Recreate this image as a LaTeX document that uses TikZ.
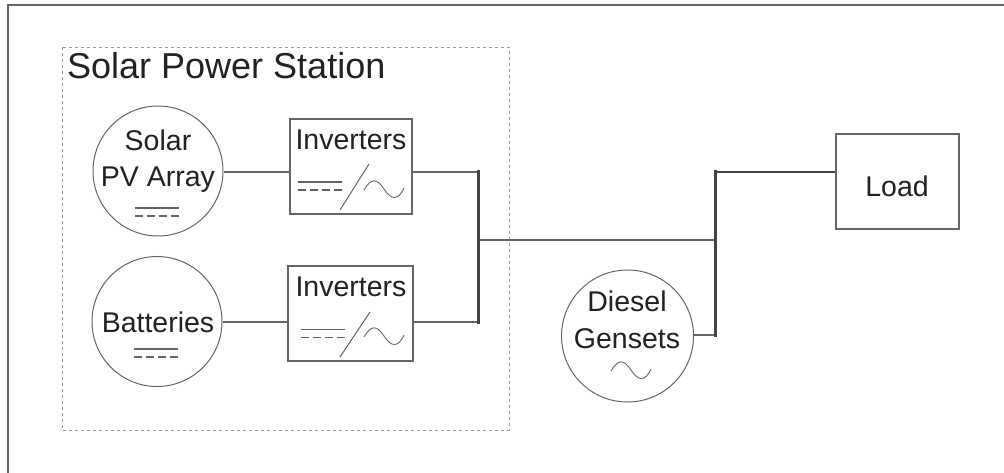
\documentclass[tikz,border=0pt]{standalone}
\usepackage{fontspec}
\setmainfont{Liberation Sans}
\usetikzlibrary{calc}
\definecolor{cInk}{HTML}{222222}
\definecolor{cLine}{HTML}{666666}
\definecolor{cBus}{HTML}{444444}
\definecolor{cDash}{HTML}{9A9A9A}
\tikzset{
  lbl/.style={font=\fontsize{28.5}{36.5}\selectfont, text=cInk, align=center, inner sep=0pt},
  src/.style={circle, draw=cLine, line width=1pt, fill=white, inner sep=0pt, minimum size=130pt},
  invbox/.style={rectangle, draw=cLine, line width=1.2pt, fill=white, inner sep=0pt, minimum width=122pt, minimum height=95pt},
  wire/.style={draw=cLine, line width=1.3pt},
  bus/.style={draw=cBus, line width=3pt, line cap=rect},
  dcmark/.pic={
    \draw[draw=cLine, line width=1.1pt] (-22,-4)--(22,-4);
    \draw[draw=cLine, line width=1.1pt, dash pattern=on 8pt off 4pt] (-22,4)--(22,4);
  },
  acwave/.pic={
    \draw[draw=cLine, line width=0.9pt] (-20,1) .. controls (-13,-11) and (-7,-11) .. (0,0)
      .. controls (7,11) and (14,12) .. (20,-1);
  },
}
\begin{document}
\begin{tikzpicture}[x=1pt, y=-1pt]
\useasboundingbox (0,0) rectangle (1004,473);
\fill[white] (0,0) rectangle (1004,473);
\draw[draw=cLine, line width=1.8pt] (8,473)--(8,5)--(1004,5);
% station
\draw[draw=cDash, line width=0.8pt, dashed] (62,47) rectangle (509,430);
\node[font=\fontsize{36}{40}\selectfont, text=cInk, anchor=west, inner sep=0pt] (title) at (67,66) {Solar Power Station};
% sources
\node[src] (pv) at (158,171) {};
\node[src] (bat) at (157,321.5) {};
\node[src, minimum size=132pt] (dsl) at (627.5,336) {};
\node[lbl] (pvtxt) at (158,161) {Solar\\PV Array};
\node[lbl] (battxt) at (158,322) {Batteries};
\node[lbl] (dsltxt) at (627,320) {Diesel\\Gensets};
% boxes
\node[invbox] (inva) at (351,166.5) {};
\node[invbox, minimum width=125pt] (invb) at (350.5,313.5) {};
\node[invbox, minimum width=123pt] (load) at (897.5,181.5) {};
\node[lbl] (invatxt) at (351,140) {Inverters};
\node[lbl] (invbtxt) at (351,287) {Inverters};
\node[lbl] (loadtxt) at (897,186) {Load};
% junctions
\coordinate (ja) at (478,172);
\coordinate (jb) at (478,322);
\coordinate (jc) at (478,240);
\coordinate (jd) at (715,240);
\coordinate (je) at (715,172);
\coordinate (jf) at (715,335);
\draw[wire] (pv.east|-ja)--(inva.west|-ja);
\draw[wire] (bat.east|-jb)--(invb.west|-jb);
\draw[wire] (inva.east|-ja)--(ja);
\draw[wire] (invb.east|-jb)--(jb);
\draw[wire] (jc)--(jd);
\draw[wire, draw=cBus] (je)--(load.west|-je);
\draw[wire] (dsl.east|-jf)--(jf);
\draw[bus] (ja)--(jb);
\draw[bus] (je)--(jf);
% symbols
\pic at (156.5,212) {dcmark};
\pic at (156,353) {dcmark};
\pic at (320,186) {dcmark};
\pic at (322.5,333.5) {dcmark};
\foreach \wx/\wy in {384/189,384/336,631/370}
  \pic at (\wx,\wy) {acwave};
\draw[draw=cLine, line width=1pt] (340,210)--(369,164);
\draw[draw=cLine, line width=1pt] (340,357)--(370,312);
\end{tikzpicture}
\end{document}
